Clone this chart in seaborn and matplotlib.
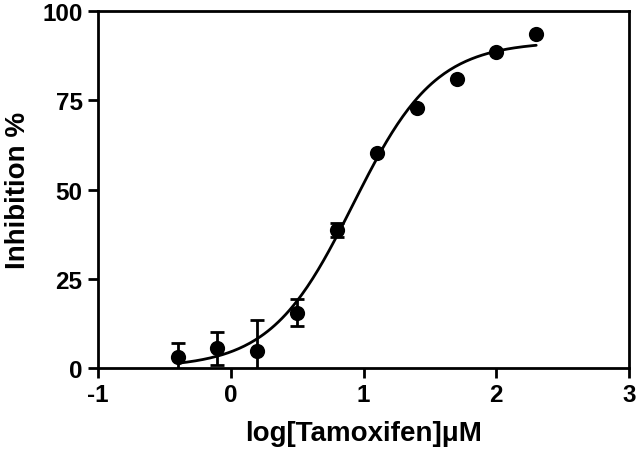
import numpy as np
import pandas as pd
import matplotlib
matplotlib.use("Agg")
import matplotlib.pyplot as plt
import seaborn as sns

# data
log_conc = [-0.4, -0.1, 0.2, 0.5, 0.8, 1.1, 1.4, 1.7, 2.0, 2.3]
inhibition = [3.0, 5.5, 4.6, 15.4, 38.7, 60.2, 72.9, 81.0, 88.6, 93.5]
inhibition_sd = [4.0, 4.6, 8.8, 3.8, 2.0, 0.0, 0.0, 0.0, 0.0, 0.0]

# 4PL fit parameters (estimated from the drawn curve)
fit_bottom = 0.0
fit_top = 91.5
fit_log_ec50 = 0.92
fit_hill = 1.4

df = pd.DataFrame({"x": log_conc, "y": inhibition, "sd": inhibition_sd})

xs = np.linspace(min(log_conc), max(log_conc), 200)
curve = pd.DataFrame({
    "x": xs,
    "y": fit_bottom + (fit_top - fit_bottom) / (1 + 10 ** ((fit_log_ec50 - xs) * fit_hill)),
})

sns.set_style("ticks")
plt.rcParams['font.family'] = ['Liberation Sans', 'DejaVu Sans']
plt.rcParams['font.weight'] = 'bold'
plt.rcParams['axes.unicode_minus'] = False
plt.rcParams['text.color'] = 'black'
plt.rcParams['axes.labelcolor'] = 'black'
plt.rcParams['xtick.color'] = 'black'
plt.rcParams['ytick.color'] = 'black'

fig = plt.figure(figsize=(6.44, 4.52), dpi=100)
ax = fig.add_axes([0.152, 0.184, 0.825, 0.789])

sns.lineplot(data=curve, x="x", y="y", ax=ax, color="black", linewidth=2.0)

err = df[df["sd"] > 0]
ax.errorbar(err["x"], err["y"], yerr=err["sd"], fmt="none", ecolor="black",
            elinewidth=2.0, capsize=5, capthick=2.0)

sns.scatterplot(data=df, x="x", y="y", ax=ax, color="black", s=120,
                edgecolor="black", linewidth=0, zorder=5, clip_on=False)

ax.set_xlim(-1, 3)
ax.set_ylim(0, 100)
ax.set_xticks([-1, 0, 1, 2, 3])
ax.set_yticks([0, 25, 50, 75, 100])
ax.set_xlabel("log[Tamoxifen]μM", fontsize=20, fontweight="bold", labelpad=10)
ax.set_ylabel("Inhibition %", fontsize=20, fontweight="bold", labelpad=8)
ax.tick_params(axis="both", labelsize=17.5, width=2, length=7, direction="out", pad=4)
for lab in ax.get_xticklabels() + ax.get_yticklabels():
    lab.set_fontweight("bold")
for side in ["top", "right", "left", "bottom"]:
    ax.spines[side].set_linewidth(2)
    ax.spines[side].set_color("black")

fig.savefig("out.png", dpi=100)
